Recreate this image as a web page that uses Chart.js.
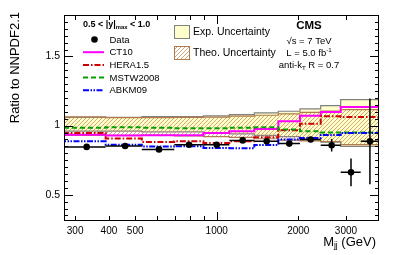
<!DOCTYPE html>
<html>
<head>
<meta charset="utf-8">
<script src="https://cdn.jsdelivr.net/npm/chart.js@4.4.1/dist/chart.umd.min.js"></script>
<style>
  html, body { margin: 0; padding: 0; background: #fff; }
</style>
</head>
<body>
<canvas id="ratioChart" width="399" height="255"></canvas>
<script>
// dijet mass bins (GeV) and ratios to NNPDF2.1
const binEdges  = [273, 389, 529, 697, 893, 1113, 1376, 1688, 2029, 2420, 2868, 3400, 3972];
const dataMass  = [331, 459, 612, 790, 1000, 1247, 1529, 1853, 2222, 2656, 3131, 3677];
const dataRatio = [0.846, 0.853, 0.828, 0.862, 0.862, 0.893, 0.886, 0.870, 0.899, 0.858, 0.662, 0.886];
const dataErr   = [0.010, 0.010, 0.010, 0.010, 0.011, 0.012, 0.013, 0.015, 0.018, 0.045, 0.100, 0.310];

const ct10  = [0.930, 0.933, 0.928, 0.930, 0.930, 0.947, 0.959, 0.976, 1.031, 1.072, 1.099, 1.135];
const hera  = [0.955, 0.947, 0.906, 0.882, 0.886, 0.874, 0.886, 0.915, 0.966, 1.014, 1.067, 1.063];
const mstw  = [0.985, 0.985, 0.988, 0.985, 0.980, 0.980, 0.985, 0.988, 0.971, 0.960, 0.950, 0.950];
const abkm  = [0.915, 0.886, 0.862, 0.848, 0.850, 0.838, 0.836, 0.860, 0.900, 0.910, 0.932, 0.947];

const expHi = [1.060, 1.060, 1.060, 1.065, 1.065, 1.070, 1.080, 1.092, 1.104, 1.121, 1.145, 1.188];
const expLo = [0.960, 0.960, 0.960, 0.955, 0.955, 0.950, 0.940, 0.930, 0.920, 0.900, 0.880, 0.850];
const theoHi = [1.092, 1.063, 1.058, 1.058, 1.060, 1.062, 1.068, 1.075, 1.085, 1.095, 1.105, 1.115];
const theoLo = [0.925, 0.930, 0.930, 0.930, 0.925, 0.920, 0.915, 0.905, 0.895, 0.890, 0.885, 0.862];

const xTickLabels = [300, 400, 500, 1000, 2000, 3000];
const xTickMarks  = [300, 400, 500, 600, 700, 800, 900, 1000, 2000, 3000];
const yTickLabels = [0.5, 1, 1.5];

const FONT = '"Liberation Sans", Arial, Helvetica, sans-serif';

// step line: one point per bin edge, value held until the next edge
const steps = vals => binEdges.map((e, i) => ({ x: e, y: vals[Math.min(i, vals.length - 1)] }));

function hatchPattern() {
  const c = document.createElement('canvas');
  c.width = 4; c.height = 4;
  const g = c.getContext('2d');
  g.strokeStyle = '#c9935f';
  g.lineWidth = 0.8;
  g.beginPath();
  g.moveTo(0, 4); g.lineTo(4, 0);
  g.moveTo(-1, 1); g.lineTo(1, -1);
  g.moveTo(3, 5); g.lineTo(5, 3);
  g.stroke();
  return g.createPattern(c, 'repeat');
}
const hatch = hatchPattern();

const stepLine = (vals, color, dash, order) => ({
  data: steps(vals), stepped: 'after', borderColor: color, borderWidth: 2,
  borderDash: dash, pointRadius: 0, fill: false, order: order
});

// error bars under the data markers
const errorBars = {
  id: 'errorBars',
  beforeDatasetDraw(chart, args) {
    if (args.index !== 8) return;
    const { ctx, scales: { x, y } } = chart;
    ctx.save();
    ctx.strokeStyle = '#000';
    ctx.lineWidth = 1.5;
    dataMass.forEach((m, i) => {
      const px = x.getPixelForValue(m);
      const py = y.getPixelForValue(dataRatio[i]);
      ctx.beginPath();
      ctx.moveTo(x.getPixelForValue(binEdges[i]), py);
      ctx.lineTo(x.getPixelForValue(binEdges[i + 1]), py);
      ctx.moveTo(px, y.getPixelForValue(dataRatio[i] + dataErr[i]));
      ctx.lineTo(px, y.getPixelForValue(dataRatio[i] - dataErr[i]));
      ctx.stroke();
    });
    ctx.restore();
  }
};

function textParts(ctx, parts, x, y, size, weight) {
  // parts: [text, 'n'|'sub'|'sup']
  let cx = x;
  parts.forEach(([t, kind]) => {
    const s = kind === 'n' ? size : size * 0.65;
    const dy = kind === 'sub' ? size * 0.3 : kind === 'sup' ? -size * 0.38 : 0;
    ctx.font = weight + ' ' + s + 'px ' + FONT;
    ctx.fillText(t, cx, y + dy);
    cx += ctx.measureText(t).width;
  });
  return cx - x;
}
function partsWidth(ctx, parts, size, weight) {
  let w = 0;
  parts.forEach(([t, kind]) => {
    ctx.font = weight + ' ' + (kind === 'n' ? size : size * 0.65) + 'px ' + FONT;
    w += ctx.measureText(t).width;
  });
  return w;
}

const frameAndText = {
  id: 'frameAndText',
  afterDraw(chart) {
    const { ctx, chartArea: a, scales: { x, y } } = chart;
    ctx.save();
    ctx.strokeStyle = '#000';
    ctx.fillStyle = '#000';
    ctx.lineWidth = 1;
    ctx.strokeRect(a.left + 0.5, a.top + 0.5, a.right - a.left - 1, a.bottom - a.top - 1);

    // inward ticks, ROOT style
    ctx.beginPath();
    for (let k = 7; k <= 36; k++) {
      const v = k * 0.05;
      const py = Math.round(y.getPixelForValue(v)) + 0.5;
      const len = (k % 10 === 0) ? 9 : 4;
      ctx.moveTo(a.left, py); ctx.lineTo(a.left + len, py);
      ctx.moveTo(a.right, py); ctx.lineTo(a.right - len, py);
    }
    xTickMarks.forEach(v => {
      const px = Math.round(x.getPixelForValue(v)) + 0.5;
      const len = v === 1000 ? 9 : 5;
      ctx.moveTo(px, a.bottom); ctx.lineTo(px, a.bottom - len);
      ctx.moveTo(px, a.top); ctx.lineTo(px, a.top + len);
    });
    ctx.stroke();

    // axis titles
    ctx.textBaseline = 'middle';
    ctx.save();
    ctx.translate(15, 12);
    ctx.rotate(-Math.PI / 2);
    ctx.textAlign = 'right';
    ctx.font = '13px ' + FONT;
    ctx.fillText('Ratio to NNPDF2.1', 0, 0);
    ctx.restore();

    ctx.textAlign = 'left';
    const xt = [['M', 'n'], ['jj', 'sub'], [' (GeV)', 'n']];
    textParts(ctx, xt, 376 - partsWidth(ctx, xt, 13, 'normal'), 242, 13, 'normal');

    // left legend
    textParts(ctx, [['0.5 < |y|', 'n'], ['max', 'sub'], [' < 1.0', 'n']], 83, 25, 9, 'bold');
    const rows = [
      ['Data', null, null],
      ['CT10', '#ff00ff', []],
      ['HERA1.5', '#cc0000', [6, 2, 1.5, 2]],
      ['MSTW2008', '#00a000', [5, 3]],
      ['ABKM09', '#0000ff', [6, 1.5, 1.5, 1.5, 1.5, 1.5]]
    ];
    rows.forEach(([label, color, dash], i) => {
      const ry = 39.5 + i * 12.7;
      if (color) {
        ctx.save();
        ctx.strokeStyle = color; ctx.lineWidth = 2; ctx.setLineDash(dash);
        ctx.beginPath(); ctx.moveTo(83, ry); ctx.lineTo(104, ry); ctx.stroke();
        ctx.restore();
      } else {
        ctx.beginPath(); ctx.arc(94.5, ry, 3.3, 0, Math.PI * 2); ctx.fill();
      }
      ctx.font = '9.5px ' + FONT;
      ctx.fillText(label, 109.5, ry + 0.5);
    });

    // right legend
    ctx.fillStyle = '#ffffcc';
    ctx.fillRect(174.5, 25.5, 15, 13);
    ctx.strokeStyle = '#808080';
    ctx.strokeRect(174.5, 25.5, 15, 13);
    ctx.fillStyle = hatch;
    ctx.fillRect(174.5, 46.5, 15, 13);
    ctx.strokeStyle = '#b07a4c';
    ctx.strokeRect(174.5, 46.5, 15, 13);
    ctx.fillStyle = '#000';
    ctx.font = '10.5px ' + FONT;
    ctx.fillText('Exp. Uncertainty', 193, 32);
    ctx.fillText('Theo. Uncertainty', 193, 53);

    // CMS block
    ctx.textAlign = 'center';
    ctx.font = 'bold 11.5px ' + FONT;
    ctx.fillText('CMS', 309, 26);
    ctx.font = '9.5px ' + FONT;
    ctx.fillText('\u221as = 7 TeV', 309, 41);
    ctx.textAlign = 'left';
    const lum = [['L = 5.0 fb', 'n'], ['-1', 'sup']];
    textParts(ctx, lum, 309 - partsWidth(ctx, lum, 9.5, 'normal') / 2, 53.5, 9.5, 'normal');
    const ak = [['anti-k', 'n'], ['T', 'sub'], [' R = 0.7', 'n']];
    textParts(ctx, ak, 309 - partsWidth(ctx, ak, 9.5, 'normal') / 2, 65.5, 9.5, 'normal');
    ctx.restore();
  }
};

const ctx = document.getElementById('ratioChart').getContext('2d');
const ratioChart = new Chart(ctx, {
  type: 'line',
  data: {
    datasets: [
      // 0,1: experimental band
      { data: steps(expLo), stepped: 'after', borderColor: '#808080', borderWidth: 1.2, pointRadius: 0, fill: false, order: 7 },
      { data: steps(expHi), stepped: 'after', borderColor: '#808080', borderWidth: 1.2, pointRadius: 0,
        fill: { target: 0 }, backgroundColor: '#ffffcc', order: 7 },
      // 2,3: theory band
      { data: steps(theoLo), stepped: 'after', borderColor: '#b07a4c', borderWidth: 1.2, pointRadius: 0, fill: false, order: 6 },
      { data: steps(theoHi), stepped: 'after', borderColor: '#b07a4c', borderWidth: 1.2, pointRadius: 0,
        fill: { target: 2 }, backgroundColor: hatch, order: 6 },
      // 4-7: PDF sets
      stepLine(ct10, '#ff00ff', [], 4),
      stepLine(hera, '#cc0000', [6, 2, 1.5, 2], 3),
      stepLine(mstw, '#00a000', [5, 3], 2),
      stepLine(abkm, '#0000ff', [6, 1.5, 1.5, 1.5, 1.5, 1.5], 1),
      // 8: data
      { data: dataMass.map((m, i) => ({ x: m, y: dataRatio[i] })), showLine: false,
        pointRadius: 3.3, pointBackgroundColor: '#000', pointBorderColor: '#000', pointBorderWidth: 0, order: 0 }
    ]
  },
  options: {
    responsive: false,
    animation: false,
    devicePixelRatio: 1,
    layout: { padding: { left: 0, top: 15, right: 20, bottom: 0 } },
    plugins: { legend: { display: false }, tooltip: { enabled: false } },
    scales: {
      x: {
        type: 'logarithmic', min: 273, max: 3972,
        grid: { display: false, drawTicks: false }, border: { display: false },
        afterBuildTicks: s => { s.ticks = xTickLabels.map(v => ({ value: v })); },
        afterFit: s => { s.height = 34; },
        ticks: { color: '#000', font: { family: FONT, size: 10 }, padding: 4, maxRotation: 0, autoSkip: false,
                 callback: v => String(v) }
      },
      y: {
        type: 'linear', min: 0.31, max: 1.8,
        grid: { display: false, drawTicks: false }, border: { display: false },
        afterBuildTicks: s => { s.ticks = yTickLabels.map(v => ({ value: v })); },
        afterFit: s => { s.width = 64; },
        ticks: { color: '#000', font: { family: FONT, size: 10.5 }, padding: 4, callback: v => String(v) }
      }
    }
  },
  plugins: [errorBars, frameAndText]
});
</script>
</body>
</html>
